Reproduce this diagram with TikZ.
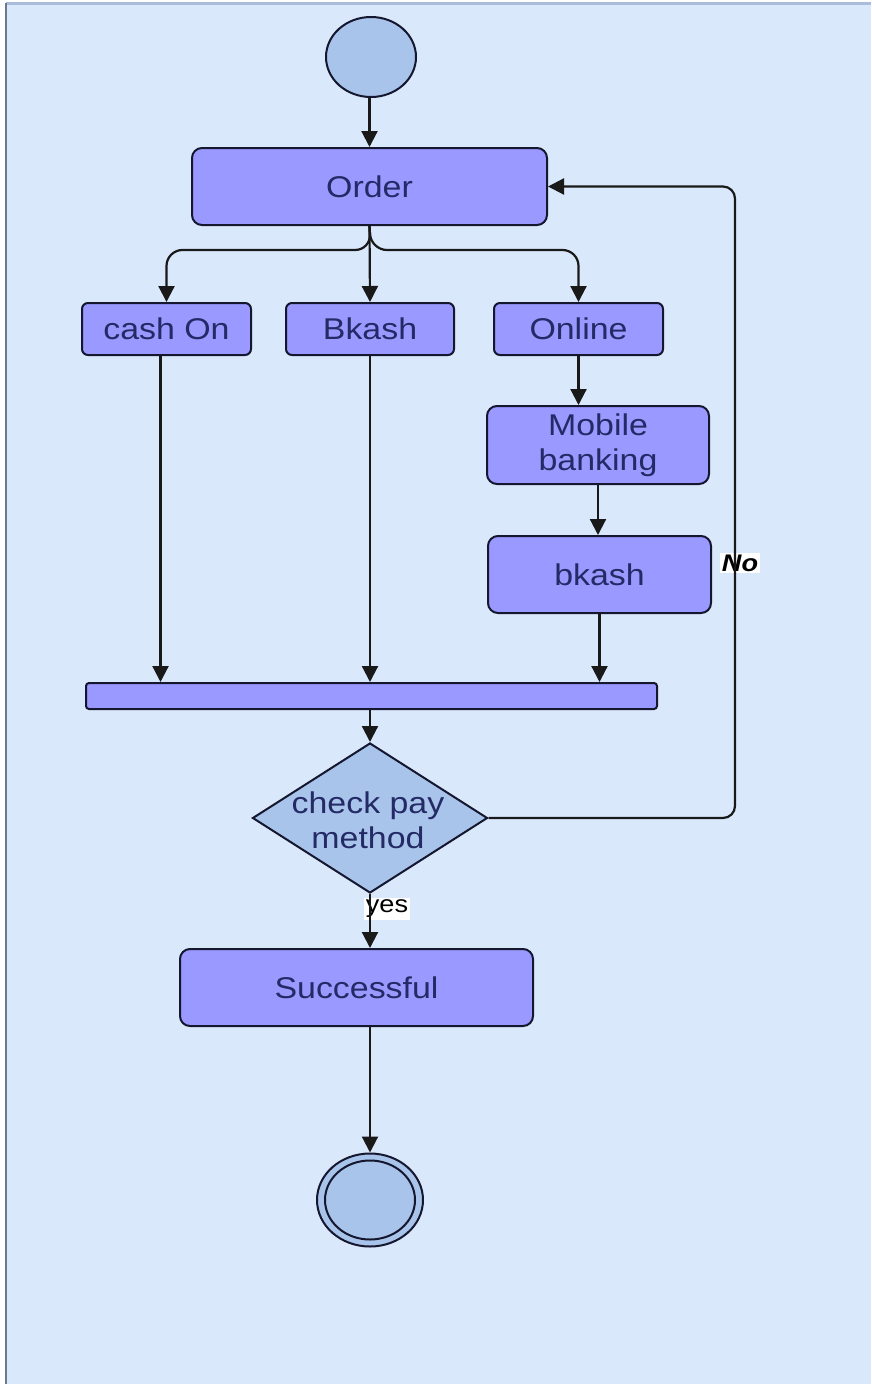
\documentclass[tikz,border=0pt]{standalone}
\usepackage{fontspec}
\setmainfont{Liberation Sans}[FakeStretch=1.13]
\usetikzlibrary{shapes.geometric,arrows.meta,calc}
\definecolor{bgc}{HTML}{DAE8FC}
\definecolor{boxc}{HTML}{9999FF}
\definecolor{startc}{HTML}{A9C4EB}
\definecolor{linec}{HTML}{14172E}
\definecolor{txtc}{HTML}{242A66}
\begin{document}
\begin{tikzpicture}[x=1pt,y=-1pt,
  box/.style={draw=linec, line width=2pt, fill=boxc, rounded corners=10pt, inner sep=0pt,
    text=txtc, align=center, font=\fontsize{30}{35}\selectfont},
  arr/.style={draw=black!90, line width=2.2pt, -{Triangle[length=16pt,width=16pt]}},
  lab/.style={fill=white, inner sep=2pt, text=black, font=\fontsize{24}{27}\selectfont}
]
\useasboundingbox (0,0) rectangle (871,1384);
\fill[white] (0,0) rectangle (871,1384);
\fill[bgc] (6,4) rectangle (871,1384);
\draw[color={rgb,255:red,170;green,188;blue,218}, line width=3pt] (6,3.5) -- (871,3.5);
\draw[color={rgb,255:red,110;green,120;blue,140}, line width=2pt] (6,3) -- (6,1384);

% nodes
\node[ellipse, draw=linec, line width=2pt, fill=startc, minimum width=90pt, minimum height=80pt] (start) at (371,57) {};
\node[box, minimum width=355pt, minimum height=77pt] (order) at (369.5,186.5) {Order};
\node[box, rounded corners=6pt, minimum width=169pt, minimum height=52pt] (cash) at (166.5,329) {cash On};
\node[box, rounded corners=6pt, minimum width=168pt, minimum height=52pt] (bk1) at (370,329) {Bkash};
\node[box, rounded corners=6pt, minimum width=169pt, minimum height=52pt] (online) at (578.5,329) {Online};
\node[box, minimum width=222pt, minimum height=78pt] (mobile) at (598,445) {Mobile\\banking};
\node[box, minimum width=223pt, minimum height=77pt] (bk2) at (599.5,574.5) {bkash};
\node[box, rounded corners=3pt, minimum width=571pt, minimum height=26pt] (bar) at (371.5,696) {};
\node[diamond, draw=linec, line width=2pt, fill=startc, minimum width=235pt, minimum height=150pt, inner sep=0pt] (check) at (370,818) {};
\node[text=txtc, align=center, font=\fontsize{30}{35}\selectfont] (checktxt) at (368,820) {check pay\\method};
\node[box, minimum width=353pt, minimum height=77pt] (succ) at (356.5,987.5) {Successful};
\node[ellipse, draw=linec, line width=2pt, fill=startc, minimum width=106pt, minimum height=93pt] (end) at (370,1200) {};
\node[ellipse, draw=linec, line width=2pt, minimum width=90pt, minimum height=79pt] (endin) at (370,1200) {};

% connectors
\coordinate (j) at (371,250);
\coordinate (loopA) at (735,818);
\coordinate (loopB) at (735,186.5);
\draw[arr] (start.south -| order.north) -- (order.north);
\draw[arr, rounded corners=16pt] (order.south) -- (j) -| (cash.north);
\draw[arr] (order.south) -- (bk1.north);
\draw[arr, rounded corners=16pt] (order.south) -- (j) -| (online.north);
\draw[arr] ([xshift=-6pt]cash.south) -- ([xshift=-6pt]cash.south |- bar.north);
\draw[arr] (bk1.south) -- (bk1.south |- bar.north);
\draw[arr] (online.south) -- (online.south |- mobile.north);
\draw[arr] (mobile.south) -- (mobile.south |- bk2.north);
\draw[arr] (bk2.south) -- (bk2.south |- bar.north);
\draw[arr] (bar.south -| check.north) -- (check.north);
\node[lab, font=\fontsize{24}{27}\selectfont\bfseries\itshape] (no) at (740,563) {No};
\draw[arr, rounded corners=12pt] (check.east) -- (loopA) -- (loopB) -- (order.east);
\node[lab] (yes) at (387,909) {yes};
\draw[arr] (check.south) -- (check.south |- succ.north);
\draw[arr] (succ.south -| end.north) -- (end.north);
\end{tikzpicture}
\end{document}
